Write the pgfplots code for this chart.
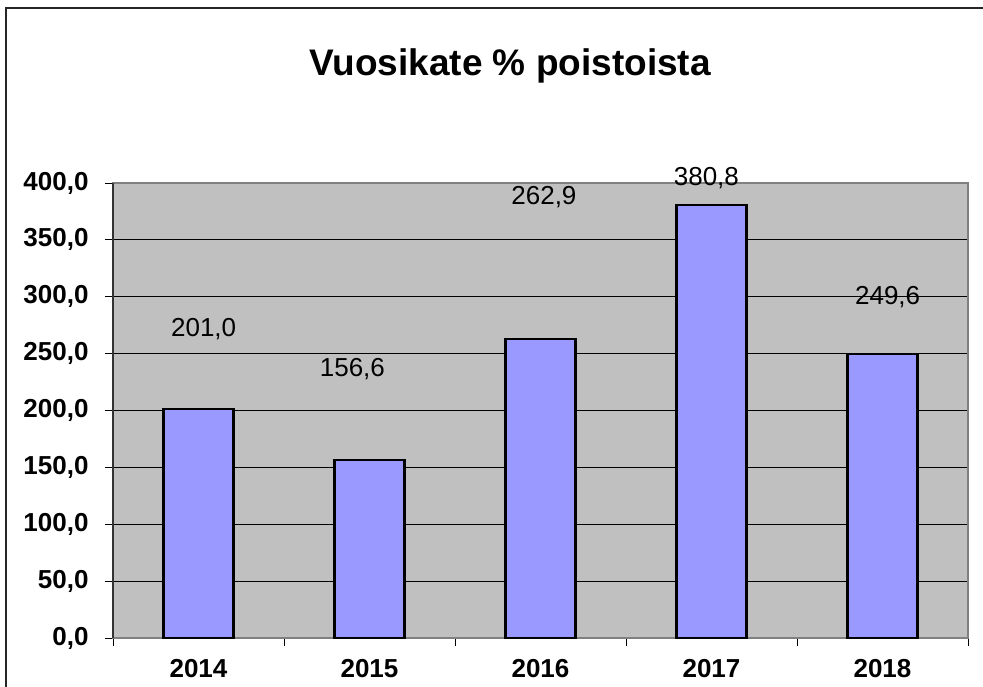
\documentclass[border=0pt]{standalone}
\usepackage{fontspec}
\setmainfont{Liberation Sans}
\usepackage{pgfplots}
\pgfplotsset{compat=1.18}
\definecolor{barfill}{HTML}{9999FF}
\definecolor{plotbg}{HTML}{C0C0C0}
\definecolor{boxgray}{HTML}{808080}
\begin{document}
\begin{tikzpicture}
\clip (0bp,0bp) rectangle (983bp,-687bp);
\draw[line width=1.5bp, black!85] (6bp,-700bp) -- (6bp,-8bp) -- (1000bp,-8bp);
\node[anchor=base, font=\fontsize{37bp}{44bp}\selectfont\bfseries] at (510bp,-75bp) {Vuosikate \% poistoista};
\begin{axis}[
  at={(113bp,-638bp)}, anchor=south west,
  width=855bp, height=455bp, scale only axis,
  xmin=-0.5, xmax=4.5, ymin=0, ymax=400,
  ytick distance=50,
  xtick={0,1,2,3,4},
  xticklabels={2014,2015,2016,2017,2018},
  minor xtick={-0.5,0.5,1.5,2.5,3.5,4.5},
  tick align=outside,
  major tick length=8bp, minor tick length=8bp,
  major x tick style={draw=none},
  minor x tick style={black, line width=1bp},
  y tick style={black, line width=1bp},
  xtick pos=bottom, ytick pos=left,
  axis background/.style={fill=plotbg},
  axis line style={boxgray, line width=2bp},
  ymajorgrids, major grid style={black, line width=1.2bp},
  /pgf/number format/.cd, fixed, fixed zerofill, precision=1, use comma, assume math mode=true,
  /pgfplots/.cd,
  ticklabel style={font=\fontsize{26bp}{30bp}\selectfont\bfseries},
  xticklabel style={yshift=-10bp},
  yticklabel style={xshift=-13bp},
  clip=false,
]
\addplot[ybar, bar width=70bp, fill=barfill, draw=black, line width=2.2bp] coordinates {
  (0,201.0) (1,156.6) (2,262.9) (3,380.8) (4,249.6)
};
\draw[black!80, line width=2bp] (rel axis cs:0,0) -- (rel axis cs:0,1);
\begin{scope}[every node/.style={anchor=base, font=\fontsize{26bp}{30bp}\selectfont}]
\node at (axis cs:0.03,264.9) {201,0};
\node at (axis cs:0.90,230.3) {156,6};
\node at (axis cs:2.02,380.7) {262,9};
\node at (axis cs:2.97,397.4) {380,8};
\node at (axis cs:4.03,293.6) {249,6};
\end{scope}
\end{axis}
\end{tikzpicture}
\end{document}
